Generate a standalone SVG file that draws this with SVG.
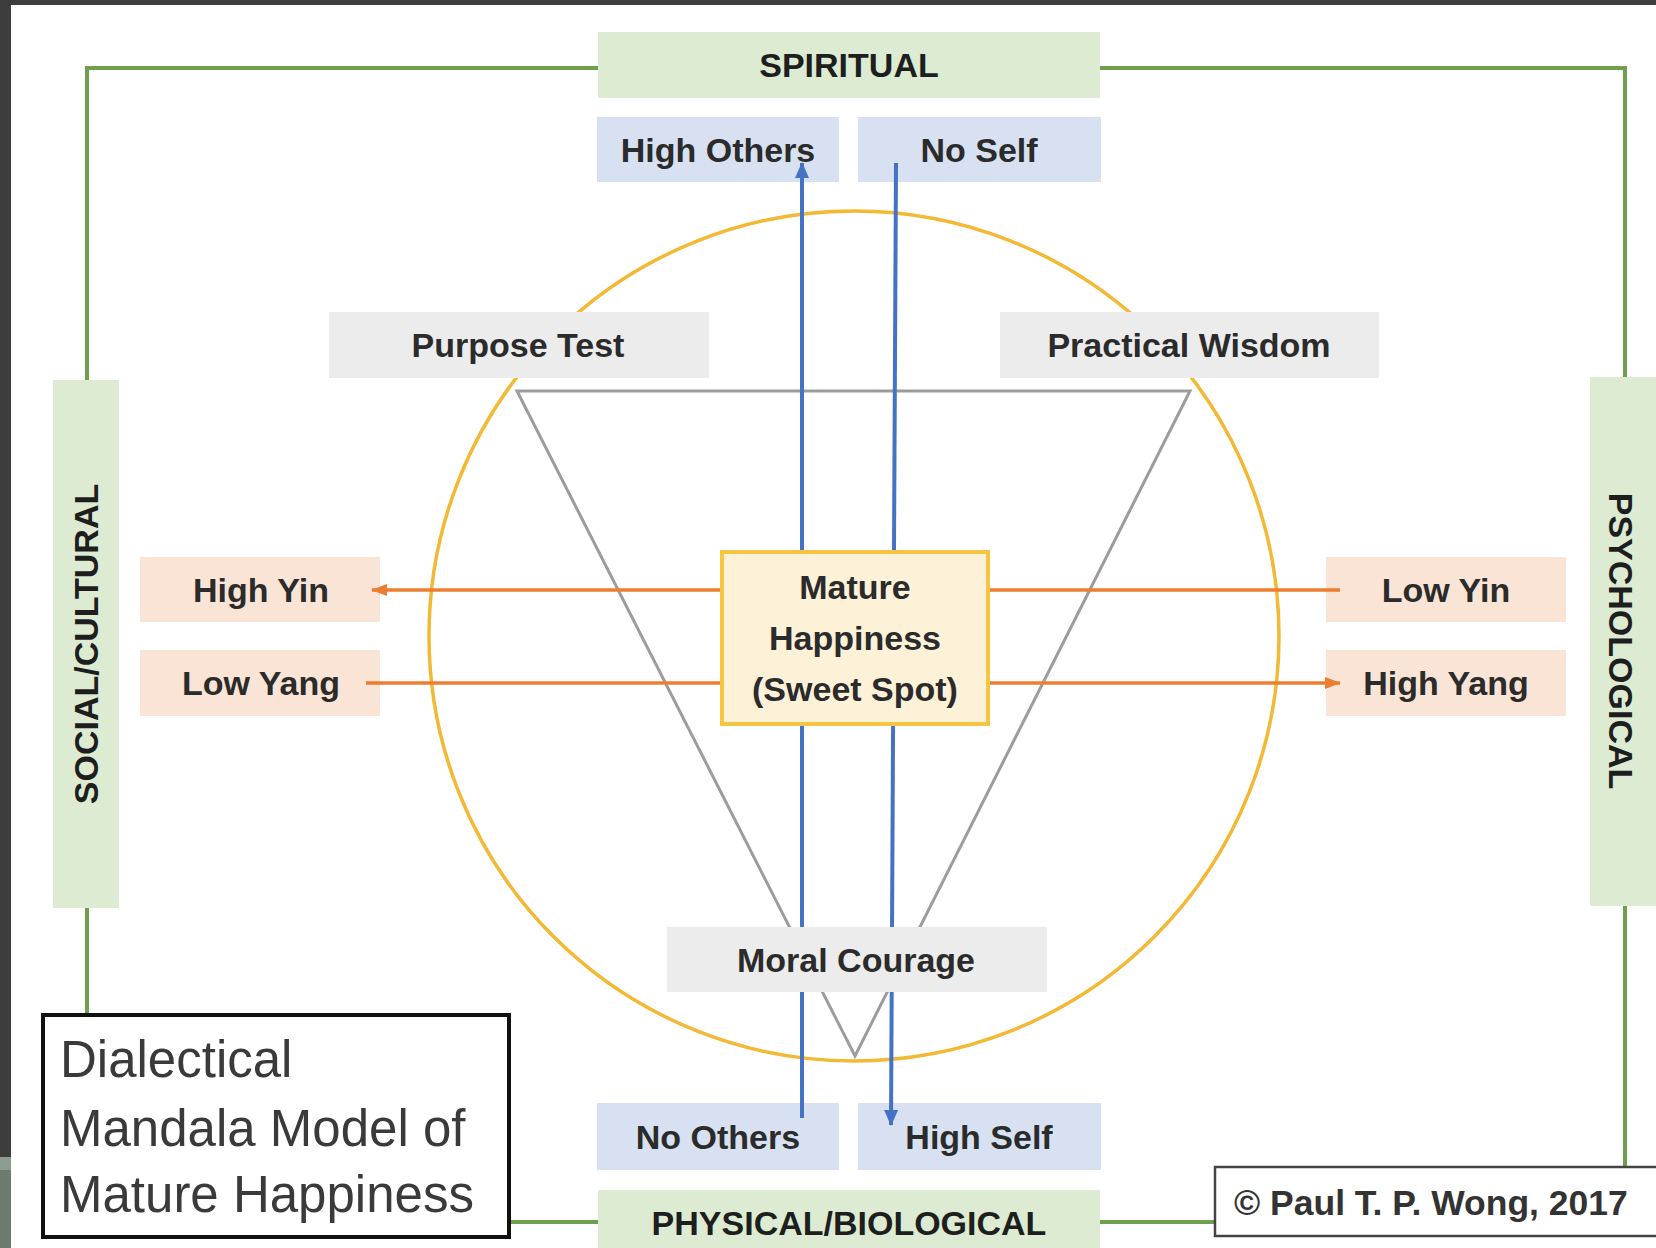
<svg xmlns="http://www.w3.org/2000/svg" width="1656" height="1248" viewBox="0 0 1656 1248">
<defs>
<style>
.lbl{font-family:"Liberation Sans",Arial,sans-serif;font-weight:bold;font-size:34px;fill:#2b2b2b;text-anchor:middle}
.hdr{font-family:"Liberation Sans",Arial,sans-serif;font-weight:bold;font-size:34px;fill:#1e1e1e;text-anchor:middle}
.title{font-family:"Liberation Sans",Arial,sans-serif;font-size:51px;fill:#3a3a3a}
.frame{stroke:#6fa04e;stroke-width:4;fill:none}
.green{fill:#dcebd2}
.blue{fill:#d7e1f1}
.gray{fill:#ececec}
.peach{fill:#fae4d5}
.barrow{stroke:#4472c4;stroke-width:4;fill:none}
.oarrow{stroke:#ed7d31;stroke-width:3.5;fill:none}
</style>
<marker id="ab" markerUnits="userSpaceOnUse" markerWidth="16" markerHeight="14" refX="15" refY="7" orient="auto">
<path d="M0,0 L16,7 L0,14 z" fill="#4472c4"/>
</marker>
<marker id="ao" markerUnits="userSpaceOnUse" markerWidth="16" markerHeight="12" refX="15" refY="6" orient="auto">
<path d="M0,0 L16,6 L0,12 z" fill="#ed7d31"/>
</marker>
</defs>
<rect x="0" y="0" width="1656" height="1248" fill="#ffffff"/>
<rect x="0" y="0" width="1656" height="5" fill="#3d3d3d"/>
<rect x="0" y="0" width="11" height="1157" fill="#3d3d3d"/>
<rect x="0" y="1157" width="11" height="13" fill="#8c9c8e"/>
<rect x="0" y="1170" width="11" height="78" fill="#6b7b6e"/>

<g id="frame">
<path class="frame" d="M598,68 H87 V380 M87,908 V1016 M509,1222 H598 M1100,1222 H1214 M1625,1167 V906 M1625,377 V68 H1100"/>
</g>

<g id="circle">
<circle cx="854" cy="636" r="425" fill="none" stroke="#f3b834" stroke-width="3.5"/>
</g>

<g id="triangle">
<path d="M517,391 H1190 L855,1056 Z" fill="none" stroke="#9c9c9c" stroke-width="3" stroke-linejoin="miter"/>
</g>

<g id="high-others"><rect class="blue" x="597" y="117" width="242" height="65"/><text class="lbl" x="718" y="162">High Others</text></g>
<g id="no-self"><rect class="blue" x="858" y="117" width="243" height="65"/><text class="lbl" x="979" y="162">No Self</text></g>
<g id="no-others"><rect class="blue" x="597" y="1103" width="242" height="67"/><text class="lbl" x="718" y="1149">No Others</text></g>
<g id="high-self"><rect class="blue" x="858" y="1103" width="243" height="67"/><text class="lbl" x="979" y="1149">High Self</text></g>
<g id="high-yin"><rect class="peach" x="140" y="557" width="240" height="65"/><text class="lbl" x="261" y="602">High Yin</text></g>
<g id="low-yang"><rect class="peach" x="140" y="650" width="240" height="66"/><text class="lbl" x="261" y="695">Low Yang</text></g>
<g id="low-yin"><rect class="peach" x="1326" y="557" width="240" height="65"/><text class="lbl" x="1446" y="602">Low Yin</text></g>
<g id="high-yang"><rect class="peach" x="1326" y="650" width="240" height="66"/><text class="lbl" x="1446" y="695">High Yang</text></g>

<g id="connectors">
<line class="barrow" x1="802" y1="1118" x2="802" y2="163" marker-end="url(#ab)"/>
<line class="barrow" x1="896" y1="163" x2="891" y2="1125" marker-end="url(#ab)"/>
<line class="oarrow" x1="722" y1="590" x2="372" y2="590" marker-end="url(#ao)"/>
<line class="oarrow" x1="988" y1="590" x2="1340" y2="590"/>
<line class="oarrow" x1="366" y1="683" x2="722" y2="683"/>
<line class="oarrow" x1="988" y1="683" x2="1340" y2="683" marker-end="url(#ao)"/>
</g>

<g id="purpose-test"><rect class="gray" x="329" y="312" width="380" height="66"/><text class="lbl" x="518" y="357">Purpose Test</text></g>
<g id="practical-wisdom"><rect class="gray" x="1000" y="312" width="379" height="66"/><text class="lbl" x="1189" y="357">Practical Wisdom</text></g>
<g id="moral-courage"><rect class="gray" x="667" y="927" width="380" height="65"/><text class="lbl" x="856" y="972">Moral Courage</text></g>

<g id="mature-happiness">
<rect x="722" y="552" width="266" height="172" fill="#fdf1d8" stroke="#f7c443" stroke-width="4"/>
<text class="lbl" x="855" y="599">Mature</text>
<text class="lbl" x="855" y="650">Happiness</text>
<text class="lbl" x="855" y="701">(Sweet Spot)</text>
</g>

<g id="spiritual"><rect class="green" x="598" y="32" width="502" height="66"/><text class="hdr" x="849" y="77">SPIRITUAL</text></g>
<g id="physical"><rect class="green" x="598" y="1190" width="502" height="58"/><text class="hdr" x="849" y="1235">PHYSICAL/BIOLOGICAL</text></g>
<g id="social"><rect class="green" x="53" y="380" width="66" height="528"/><text class="hdr" x="98" y="644" transform="rotate(-90 98 644)">SOCIAL/CULTURAL</text></g>
<g id="psychological"><rect class="green" x="1590" y="377" width="66" height="529"/><text class="hdr" x="1609" y="641" transform="rotate(90 1609 641)">PSYCHOLOGICAL</text></g>

<g id="title">
<rect x="43" y="1015" width="466" height="222" fill="#ffffff" stroke="#111111" stroke-width="4"/>
<text class="title" x="60" y="1077">Dialectical</text>
<text class="title" x="60" y="1146">Mandala Model of</text>
<text class="title" x="60" y="1212">Mature Happiness</text>
</g>

<g id="copyright">
<rect x="1215" y="1167" width="445" height="69" fill="#ffffff" stroke="#444444" stroke-width="2.5"/>
<text x="1234" y="1215" style="font-family:'Liberation Sans',Arial,sans-serif;font-weight:bold;font-size:35.5px;fill:#333333">© Paul T. P. Wong, 2017</text>
</g>
</svg>
